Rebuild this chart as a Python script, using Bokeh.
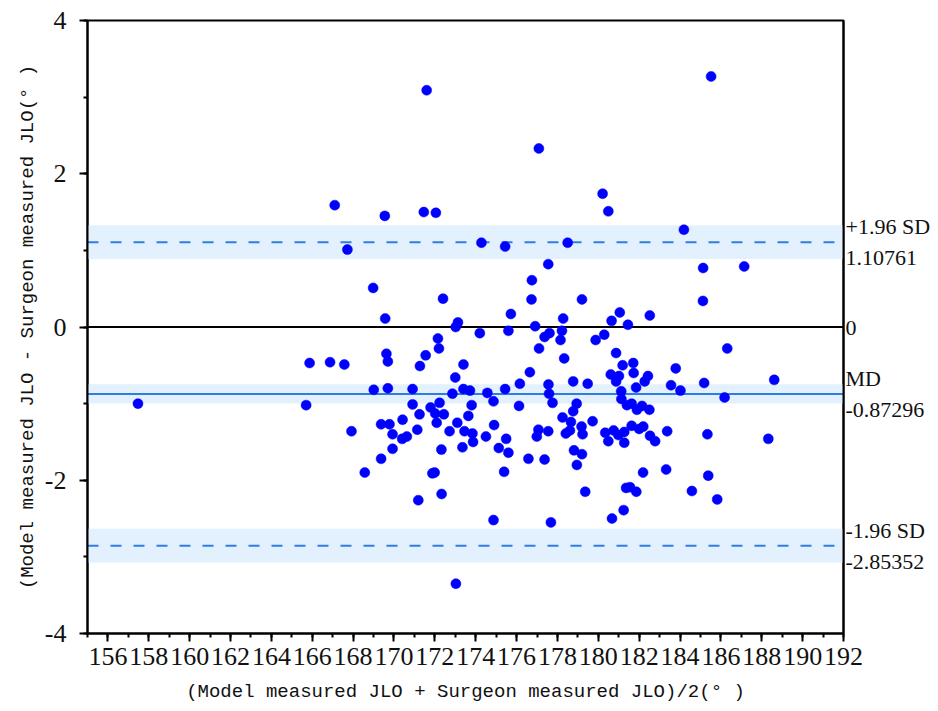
from bokeh.plotting import figure
from bokeh.models import (Span, BoxAnnotation, LinearAxis, FixedTicker,
                          SingleIntervalTicker, Range1d)
from bokeh.embed import file_html
from bokeh.resources import INLINE

# Bland-Altman data: mean of the two measurements (x) and their difference (y)
mean_jlo = [
    157.47, 165.70, 165.87, 166.87, 167.10, 167.57, 167.72, 167.92, 168.57, 168.98,
    169.01, 169.37, 169.37, 169.55, 169.57, 169.63, 169.70, 169.70, 169.78, 169.93,
    169.93, 170.42, 170.40, 170.63, 170.91, 170.91, 171.14, 171.19, 171.27, 171.25,
    171.46, 171.55, 171.60, 171.79, 171.88, 171.99, 172.02, 172.05, 172.09, 172.15,
    172.20, 172.23, 172.32, 172.33, 172.40, 172.44, 172.72, 172.86, 173.00, 173.02,
    173.13, 173.03, 173.10, 173.35, 173.40, 173.40, 173.45, 173.64, 173.72, 173.80,
    173.84, 173.87, 174.20, 174.28, 174.50, 174.57, 174.87, 174.90, 174.87, 175.13,
    175.39, 175.44, 175.44, 175.49, 175.60, 175.60, 175.72, 176.12, 176.16, 176.58,
    176.65, 176.73, 176.75, 176.91, 176.99, 177.07, 177.09, 177.10, 177.37, 177.37,
    177.55, 177.55, 177.56, 177.59, 177.61, 177.68, 177.76, 178.15, 178.22, 178.25,
    178.28, 178.33, 178.41, 178.50, 178.61, 178.66, 178.77, 178.77, 178.81, 178.94,
    178.95, 179.18, 179.20, 179.20, 179.23, 179.36, 179.48, 179.72, 179.87, 180.21,
    180.29, 180.34, 180.49, 180.49, 180.61, 180.65, 180.67, 180.75, 180.87, 180.87,
    180.98, 181.05, 181.01, 181.12, 181.13, 181.19, 181.24, 181.27, 181.27, 181.40,
    181.45, 181.36, 181.55, 181.63, 181.63, 181.71, 181.73, 181.85, 181.86, 181.89,
    182.00, 182.14, 182.20, 182.19, 182.27, 182.43, 182.50, 182.52, 182.53, 182.78,
    183.32, 183.37, 183.56, 183.79, 184.02, 184.19, 184.58, 185.12, 185.13, 185.18,
    185.34, 185.38, 185.52, 185.82, 186.18, 186.31, 187.14, 188.32, 188.61,
]
diff_jlo = [
    -1.00, -1.02, -0.47, -0.46, 1.59, -0.49, 1.01, -1.36, -1.90, 0.51,
    -0.82, -1.27, -1.72, 1.45, 0.11, -0.35, -0.45, -0.80, -1.27, -1.40,
    -1.59, -1.21, -1.46, -1.43, -0.81, -1.01, -1.34, -2.26, -0.51, -1.14,
    1.50, -0.37, 3.09, -1.05, -1.91, -1.90, -1.13, 1.49, -1.25, -0.15,
    -0.28, -0.99, -1.60, -2.18, 0.37, -1.14, -1.36, -0.87, -0.66, 0.00,
    0.06, -3.35, -1.25, -1.57, -0.49, -0.81, -1.36, -1.16, -0.83, -1.02,
    -1.39, -1.50, -0.08, 1.10, -1.43, -0.86, -0.97, -1.28, -2.52, -1.58,
    -1.89, 1.05, -0.81, -1.46, -0.05, -1.64, 0.17, -1.03, -0.74, -1.72,
    -0.59, 0.36, 0.61, 0.01, -1.43, -1.34, 2.33, -0.28, -0.13, -1.73,
    0.82, -1.36, -0.75, -0.87, -0.08, -2.55, -0.99, -0.17, -0.05, -1.18,
    0.11, -0.41, -1.39, 1.10, -1.35, -1.24, -0.71, -1.10, -1.61, -1.00,
    -1.80, -1.30, 0.36, -1.66, -1.40, -2.15, -0.74, -1.23, -0.17, 1.74,
    -0.10, -1.38, 1.51, -1.49, -0.62, 0.08, -2.50, -1.35, -0.34, -0.71,
    -1.41, 0.19, -0.64, -0.84, -0.94, -0.50, -2.39, -1.37, -1.51, -1.02,
    0.03, -2.10, -2.09, -1.00, -1.29, -0.47, -0.60, -0.79, -2.15, -1.08,
    -1.33, -1.03, -1.30, -1.90, -0.71, -0.64, -1.08, 0.15, -1.42, -1.49,
    -1.86, -1.36, -0.76, -0.54, -0.83, 1.27, -2.14, 0.34, 0.77, -0.73,
    -1.40, -1.94, 3.27, -2.25, -0.92, -0.28, 0.79, -1.46, -0.69,
]

# Summary statistics
mean_diff = -0.87296
upper_loa = 1.10761
lower_loa = -2.85352
md_ci_half = 0.125      # half width of the confidence band around the mean difference
loa_ci_half = 0.22      # half width of the confidence bands around the limits

x_start, x_end = 155, 192
y_start, y_end = -4, 4
y_tick_values = [-4, -2, 0, 2, 4]
y_tick_labels = ["-4", "-2", "0", "2", "4"]

LINE_BLUE = "#2f7de1"
BAND_BLUE = "#e3f0fd"
POINT_BLUE = "#0000ff"

p = figure(width=938, height=711, output_backend="svg", toolbar_location=None,
           x_range=Range1d(x_start, x_end), y_range=Range1d(y_start, y_end),
           min_border_left=87, min_border_right=95, min_border_top=20,
           min_border_bottom=78)
p.grid.visible = False
p.outline_line_color = "black"
p.outline_line_width = 2
p.background_fill_color = "white"
p.border_fill_color = "white"

# Confidence bands
for centre, half in [(upper_loa, loa_ci_half), (mean_diff, md_ci_half),
                     (lower_loa, loa_ci_half)]:
    p.add_layout(BoxAnnotation(bottom=centre - half, top=centre + half,
                               fill_color=BAND_BLUE, fill_alpha=1.0,
                               line_alpha=0, level="underlay"))

# Reference lines
p.add_layout(Span(location=upper_loa, dimension="width", line_color=LINE_BLUE,
                  line_width=2, line_dash="11 12", level="underlay"))
p.add_layout(Span(location=lower_loa, dimension="width", line_color=LINE_BLUE,
                  line_width=2, line_dash="11 12", level="underlay"))
p.add_layout(Span(location=mean_diff, dimension="width", line_color=LINE_BLUE,
                  line_width=2, level="underlay"))
p.add_layout(Span(location=0, dimension="width", line_color="black",
                  line_width=2, level="underlay"))

# Points
p.scatter(mean_jlo, diff_jlo, size=10, marker="circle",
          fill_color=POINT_BLUE, line_color=POINT_BLUE, line_width=0.5)

TICK_FONT = "Liberation Serif"
TITLE_FONT = "Liberation Mono"

def style_axis(ax):
    ax.axis_line_color = "black"
    ax.axis_line_width = 2
    ax.major_tick_line_color = "black"
    ax.major_tick_line_width = 2
    ax.minor_tick_line_color = "black"
    ax.minor_tick_line_width = 2
    ax.major_tick_in = 0
    ax.major_tick_out = 8
    ax.minor_tick_in = 0
    ax.minor_tick_out = 4
    ax.major_label_text_font = TICK_FONT
    ax.major_label_text_font_size = "26px"
    ax.major_label_text_color = "#111111"
    ax.axis_label_text_font = TITLE_FONT
    ax.axis_label_text_font_size = "19px"
    ax.axis_label_text_font_style = "normal"
    ax.axis_label_text_color = "#111111"

xax = p.xaxis[0]
style_axis(xax)
xax.ticker = SingleIntervalTicker(interval=2, num_minor_ticks=2)
xax.major_label_standoff = 6
xax.axis_label = "(Model measured JLO + Surgeon measured JLO)/2(° )"
xax.axis_label_standoff = 13

yax = p.yaxis[0]
style_axis(yax)
yax.ticker = SingleIntervalTicker(interval=2, num_minor_ticks=2)
yax.major_label_overrides = dict(zip(y_tick_values, y_tick_labels))
yax.major_label_standoff = 13
yax.axis_label = "(Model measured JLO - Surgeon measured JLO(° )"
yax.axis_label_standoff = 3

# Right axis carrying the limit labels
right_ticks = [upper_loa, 0, mean_diff, lower_loa]
right_labels = ["+1.96 SD\n1.10761", "0", "MD\n-0.87296", "-1.96 SD\n-2.85352"]
rax = LinearAxis(ticker=FixedTicker(ticks=right_ticks))
rax.major_label_overrides = dict(zip(right_ticks, right_labels))
rax.axis_line_color = "black"
rax.axis_line_width = 2
rax.major_tick_in = 0
rax.major_tick_out = 0
rax.minor_tick_in = 0
rax.minor_tick_out = 0
rax.major_label_standoff = 2
rax.major_label_text_font = TICK_FONT
rax.major_label_text_font_size = "22px"
rax.major_label_text_color = "#111111"
rax.major_label_text_line_height = 1.25
p.add_layout(rax, "right")

open("out.html", "w").write(file_html(p, INLINE))
